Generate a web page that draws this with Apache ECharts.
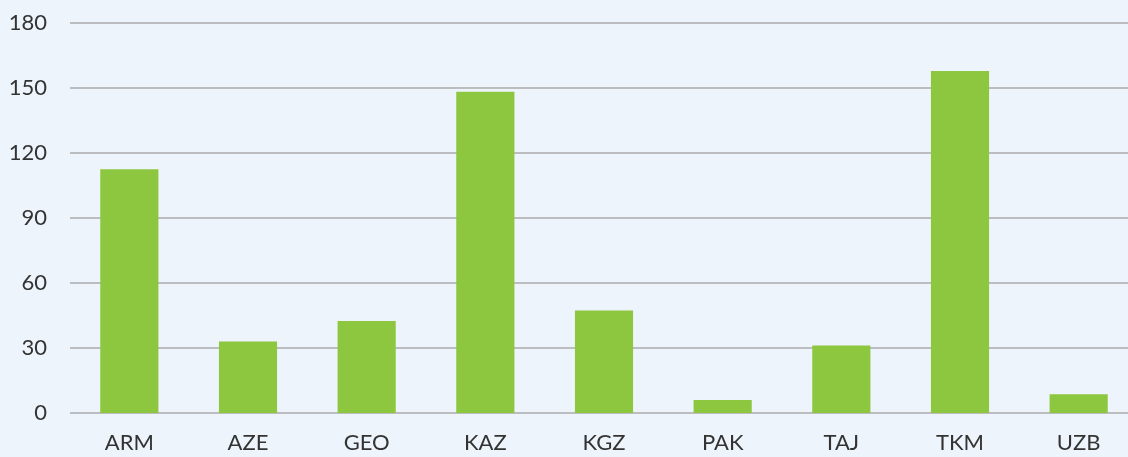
<!DOCTYPE html>
<html>
<head>
<meta charset="utf-8">
<script src="https://cdn.jsdelivr.net/npm/echarts@6/dist/echarts.min.js"></script>
<style>
  html, body { margin: 0; padding: 0; background: #EEF4FB; }
  #chart { width: 1128px; height: 457px; }
</style>
</head>
<body>
<div id="chart"></div>
<script>
// Country values
var categories = ['ARM', 'AZE', 'GEO', 'KAZ', 'KGZ', 'PAK', 'TAJ', 'TKM', 'UZB'];
var values = [112.5, 33, 42.5, 148.3, 47.3, 6, 31.2, 157.8, 8.7];

var chart = echarts.init(document.getElementById('chart'));

var option = {
    backgroundColor: '#EEF4FB',
    animation: false,
    grid: {
        left: 70,
        width: 1068,
        top: 23,
        height: 390,
        outerBoundsMode: 'none',
        containLabel: false
    },
    xAxis: {
        type: 'category',
        data: categories,
        axisLine: { show: false },
        axisTick: { show: false },
        axisLabel: {
            color: '#333333',
            fontFamily: 'Lato',
            fontSize: 22,
            margin: 19
        }
    },
    yAxis: {
        type: 'value',
        min: 0,
        max: 180,
        interval: 30,
        axisLine: { show: false },
        axisTick: { show: false },
        axisLabel: {
            color: '#333333',
            fontFamily: 'Lato',
            fontSize: 22,
            margin: 23
        },
        splitLine: {
            lineStyle: { color: '#BBBDC0', width: 2 }
        }
    },
    series: [
        {
            type: 'bar',
            data: values,
            barWidth: '49%',
            itemStyle: { color: '#8DC63F' }
        }
    ]
};

chart.setOption(option);
</script>
</body>
</html>
